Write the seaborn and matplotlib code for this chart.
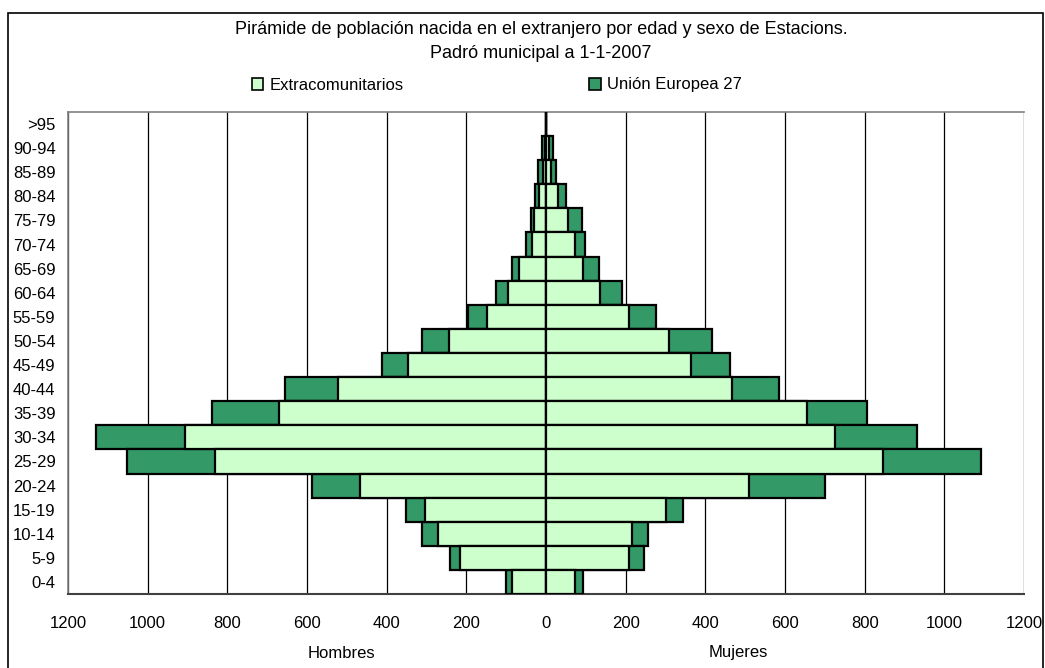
import matplotlib
matplotlib.use('Agg')
import matplotlib.pyplot as plt
import seaborn as sns
import pandas as pd
from matplotlib.patches import Patch, Rectangle

# Grupos de edad (de abajo hacia arriba)
edades = ['0-4', '5-9', '10-14', '15-19', '20-24', '25-29', '30-34', '35-39', '40-44',
          '45-49', '50-54', '55-59', '60-64', '65-69', '70-74', '75-79', '80-84',
          '85-89', '90-94', '>95']

# Hombres
hombres_extra = [85, 215, 270, 305, 466, 832, 907, 671, 521, 346, 244, 149, 95, 67, 35, 29, 18, 8, 2, 0]
hombres_ue = [15, 26, 41, 46, 121, 221, 222, 168, 135, 65, 67, 46, 30, 19, 15, 9, 9, 13, 8, 0]

# Mujeres
mujeres_extra = [74, 209, 215, 301, 510, 847, 726, 656, 466, 365, 309, 209, 135, 94, 74, 54, 29, 12, 8, 0]
mujeres_ue = [20, 36, 40, 44, 190, 246, 206, 151, 119, 96, 107, 67, 56, 40, 25, 36, 21, 13, 9, 0]

ticks = [-1200, -1000, -800, -600, -400, -200, 0, 200, 400, 600, 800, 1000, 1200]

verde_claro = '#CCFFCC'
verde_oscuro = '#339966'

df = pd.DataFrame({'edad': edades,
                   'h_extra': hombres_extra, 'h_ue': hombres_ue,
                   'm_extra': mujeres_extra, 'm_ue': mujeres_ue})
df['h_total'] = -(df['h_extra'] + df['h_ue'])
df['h_light'] = -df['h_extra']
df['m_total'] = df['m_extra'] + df['m_ue']
df['m_light'] = df['m_extra']
orden = edades[::-1]

sns.set_style('white')
plt.rcParams['font.family'] = ['Liberation Sans', 'DejaVu Sans']
plt.rcParams['text.color'] = 'black'
plt.rcParams['xtick.color'] = 'black'
plt.rcParams['ytick.color'] = 'black'
plt.rcParams['xtick.labelcolor'] = 'black'
plt.rcParams['ytick.labelcolor'] = 'black'

fig = plt.figure(figsize=(10.45, 6.68), dpi=100)
ax = fig.add_axes([68 / 1045, 1 - 594 / 668, (1024 - 68) / 1045, (594 - 112) / 668])

kw = dict(y='edad', order=orden, orient='h', width=1.0, saturation=1,
          edgecolor='black', linewidth=1.6, ax=ax, zorder=3)
sns.barplot(data=df, x='h_total', color=verde_oscuro, **kw)
sns.barplot(data=df, x='h_light', color=verde_claro, **kw)
sns.barplot(data=df, x='m_total', color=verde_oscuro, **kw)
sns.barplot(data=df, x='m_light', color=verde_claro, **kw)

ax.set_xlim(-1200, 1200)
ax.set_xticks(ticks)
ax.set_xticklabels([str(abs(t)) for t in ticks], fontsize=12,
                   family=['Liberation Sans Narrow', 'Liberation Sans'])
for t in ticks:
    ax.axvline(t, color='black', linewidth=0.9, zorder=1)
ax.set_xlabel('')
ax.set_ylabel('')
ax.tick_params(axis='x', direction='out', length=5, width=1, color='#404040', pad=11)
ax.tick_params(axis='y', length=0, pad=9, labelsize=12)
for s in ['top', 'left', 'right']:
    ax.spines[s].set_color('#808080')
    ax.spines[s].set_linewidth(1.2)
ax.spines['right'].set_visible(False)
ax.spines['bottom'].set_color('#404040')
ax.spines['bottom'].set_linewidth(1.5)

# Títulos y etiquetas
fig.text(541 / 1045, 1 - 30 / 668,
         'Pirámide de población nacida en el extranjero por edad y sexo de Estacions.',
         ha='center', va='center', fontsize=13)
fig.text(541 / 1045, 1 - 53 / 668, 'Padró municipal a 1-1-2007',
         ha='center', va='center', fontsize=13)
fig.text(341 / 1045, 1 - 653 / 668, 'Hombres', ha='center', va='center', fontsize=12)
fig.text(738 / 1045, 1 - 653 / 668, 'Mujeres', ha='center', va='center', fontsize=12)

handles = [Patch(facecolor=verde_claro, edgecolor='black', linewidth=1.2, label='Extracomunitarios'),
           Patch(facecolor=verde_oscuro, edgecolor='black', linewidth=1.2, label='Unión Europea 27')]
fig.legend(handles=handles, loc='center', bbox_to_anchor=(497 / 1045, 1 - 85 / 668), ncol=2,
           frameon=False, fontsize=12, handlelength=0.7, handleheight=0.7,
           handletextpad=0.4, columnspacing=11.1)

# Marco exterior
fig.patches.append(Rectangle((8 / 1045, -0.05), (1043 - 8) / 1045, 1.05 - 13 / 668,
                             transform=fig.transFigure, fill=False, edgecolor='black',
                             linewidth=1.2))

fig.savefig('out.png', dpi=100)
